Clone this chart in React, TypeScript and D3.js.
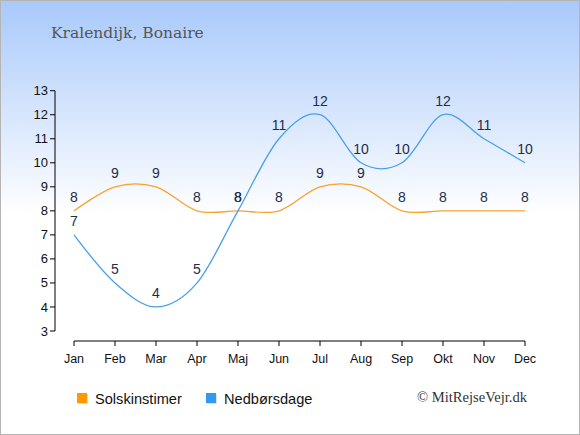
import * as d3 from "d3";

const months = ["Jan", "Feb", "Mar", "Apr", "Maj", "Jun", "Jul", "Aug", "Sep", "Okt", "Nov", "Dec"];
const sunHours = [8, 9, 9, 8, 8, 8, 9, 9, 8, 8, 8, 8];
const rainDays = [7, 5, 4, 5, 8, 11, 12, 10, 10, 12, 11, 10];
const yTicks = [3, 4, 5, 6, 7, 8, 9, 10, 11, 12, 13];

const W = 580;
const H = 435;

document.body.style.margin = "0";

export default function App() {
  const x = d3.scalePoint<string>().domain(months).range([74, 525]);
  const y = d3.scaleLinear().domain([3, 13]).range([331, 90.7]);
  const axisY = 341;
  const axisX = 55;

  const line = d3
    .line<number>()
    .x((_, i) => x(months[i]) as number)
    .y((d) => y(d))
    .curve(d3.curveCardinal.tension(0));

  const series = [
    { name: "Solskinstimer", values: sunHours, color: "#f9a22e", legend: "#ff9900" },
    { name: "Nedbørsdage", values: rainDays, color: "#47a0ec", legend: "#3399ee" },
  ];

  const labelFont = "Arial, 'Liberation Sans', sans-serif";

  return (
    <svg width={W} height={H} style={{ display: "block" }}>
      <defs>
        <linearGradient id="bg" x1="0" y1="0" x2="0" y2="215" gradientUnits="userSpaceOnUse">
          <stop offset="0" stopColor="#a8c9fb" />
          <stop offset="1" stopColor="#ffffff" />
        </linearGradient>
      </defs>
      <rect x={0.5} y={0.5} width={W - 1} height={H - 1} fill="url(#bg)" stroke="#b4b4b4" />

      <text x={51} y={38} fontFamily="'DejaVu Serif', serif" fontSize={15.5} fill="#555">
        Kralendijk, Bonaire
      </text>

      {/* y axis */}
      <line x1={axisX} x2={axisX} y1={y(13)} y2={y(3)} stroke="#000" />
      {yTicks.map((t) => (
        <g key={t}>
          <line x1={axisX - 5} x2={axisX} y1={y(t)} y2={y(t)} stroke="#000" />
          <text
            x={axisX - 7}
            y={y(t)}
            dy="0.35em"
            textAnchor="end"
            fontFamily={labelFont}
            fontSize={13}
            fill="#111"
          >
            {t}
          </text>
        </g>
      ))}

      {/* x axis */}
      <line x1={x("Jan")} x2={x("Dec")} y1={axisY} y2={axisY} stroke="#000" />
      {months.map((m) => (
        <g key={m}>
          <line x1={x(m)} x2={x(m)} y1={axisY} y2={axisY + 5} stroke="#000" />
          <text
            x={x(m)}
            y={363}
            textAnchor="middle"
            fontFamily={labelFont}
            fontSize={12.5}
            fill="#111"
          >
            {m}
          </text>
        </g>
      ))}

      {series.map((s) => (
        <g key={s.name}>
          <path d={line(s.values) ?? ""} fill="none" stroke={s.color} strokeWidth={1.3} />
          {s.values.map((v, i) => (
            <text
              key={i}
              x={x(months[i])}
              y={y(v) - 14}
              dy="0.35em"
              textAnchor="middle"
              fontFamily={labelFont}
              fontSize={14}
              fill="#1e2d4d"
            >
              {v}
            </text>
          ))}
        </g>
      ))}

      {/* legend */}
      {series.map((s, i) => {
        const lx = i === 0 ? 77 : 206;
        return (
          <g key={s.name}>
            <rect x={lx + 1} y={394} width={10} height={10} fill="#c8c8c8" opacity={0.6} />
            <rect x={lx} y={393} width={10} height={10} fill={s.legend} />
            <text x={lx + 18} y={403.5} fontFamily={labelFont} fontSize={14.6} fill="#111">
              {s.name}
            </text>
          </g>
        );
      })}

      <text
        x={527}
        y={402}
        textAnchor="end"
        fontFamily="'Liberation Serif', 'Times New Roman', serif"
        fontSize={14.6}
        fill="#333"
      >
        © MitRejseVejr.dk
      </text>
    </svg>
  );
}
